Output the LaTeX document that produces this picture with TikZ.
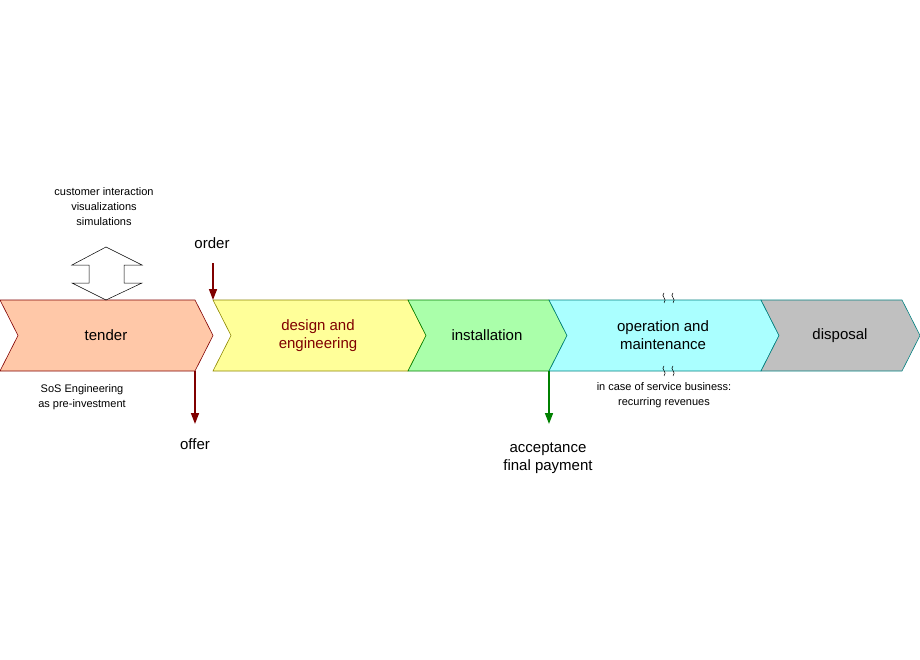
\documentclass[tikz,border=0pt]{standalone}
\usepackage{fontspec}
\setmainfont{Liberation Sans}
\usetikzlibrary{positioning, arrows.meta}
\definecolor{tendercol}{HTML}{FFC8A8}
\definecolor{designcol}{HTML}{FFFF99}
\definecolor{installcol}{HTML}{AAFFAA}
\definecolor{operatecol}{HTML}{AAFFFF}
\definecolor{disposecol}{HTML}{C0C0C0}
\definecolor{darkred}{HTML}{800000}
\definecolor{darkgreen}{HTML}{008000}
\tikzset{
  phase/.style={line width=0.6pt, line join=miter},
  big/.style={font=\fontsize{15}{18}\selectfont, align=center},
  small/.style={font=\fontsize{11}{15}\selectfont, align=center},
  milestone/.style={line width=1.6pt, -{Triangle[length=11pt,width=8pt]}}
}
% chevron: \Chevron{left}{right}{fill}{border}
\newcommand{\Chevron}[4]{%
  \filldraw[phase, fill=#3, draw=#4] (#1,300) -- (#2,300) -- (#2+18,335.5)
    -- (#2,371) -- (#1,371) -- (#1+18,335.5) -- cycle;}
\begin{document}
\begin{tikzpicture}[x=1pt,y=-1pt]
\useasboundingbox (0,0) rectangle (920,660);
% phases
\Chevron{0}{195}{tendercol}{darkred}
\Chevron{213}{408}{designcol}{olive}
\Chevron{408}{549}{installcol}{darkgreen}
\Chevron{549}{761}{operatecol}{teal}
\Chevron{761}{902}{disposecol}{teal}
\node[big] (tender) at (106,335.5) {tender};
\node[big, text=darkred] (design) at (318,335.5) {design and\\engineering};
\node[big] (install) at (487,335.5) {installation};
\node[big] (operate) at (663,335.5) {operation and\\maintenance};
\node[big] (dispose) at (840,335.5) {disposal};
% break marks
\foreach \y in {293,366}
  \foreach \x in {664,673}
    \draw[line width=0.5pt] (\x,\y) .. controls (\x-4,\y+3) and (\x+4,\y+6) .. (\x,\y+10);
% double arrow
\draw[line width=0.5pt] (106,247) -- (142,265) -- (124,265) -- (124,283) -- (142,283)
  -- (106,300) -- (72,283) -- (89,283) -- (89,265) -- (72,265) -- cycle;
\node[small] (interact) at (104,207) {customer interaction\\visualizations\\simulations};
% milestones
\coordinate (orderstart) at (213,263);
\coordinate (orderend) at (213,300);
\coordinate (offerstart) at (195,371);
\coordinate (offerend) at (195,424);
\coordinate (acceptstart) at (549,371);
\coordinate (acceptend) at (549,424);
\draw[milestone, darkred] (orderstart) -- (orderend);
\draw[milestone, darkred] (offerstart) -- (offerend);
\draw[milestone, darkgreen] (acceptstart) -- (acceptend);
\node[big] (order) at (212,243) {order};
\node[big] (offer) at (195,444) {offer};
\node[big] (accept) at (548,458) {acceptance\\final payment};
\node[small] (sos) at (82,397) {SoS Engineering\\as pre-investment};
\node[small] (service) at (664,395) {in case of service business:\\recurring revenues};
\end{tikzpicture}
\end{document}
